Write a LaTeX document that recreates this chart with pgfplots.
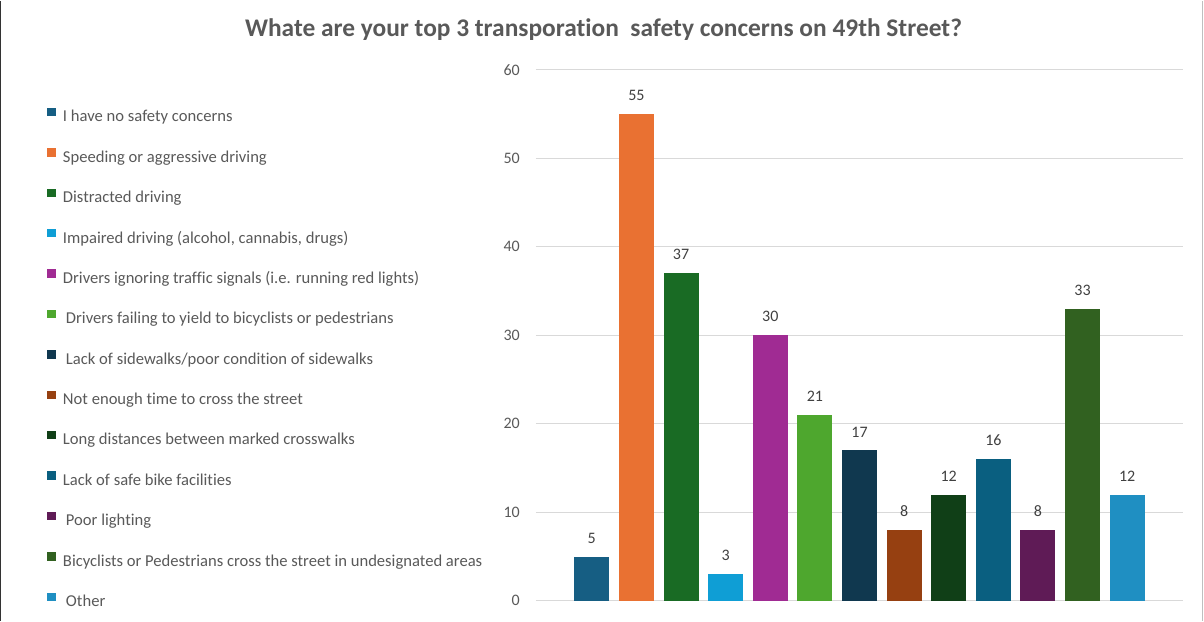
\documentclass[border=0pt]{standalone}
\usepackage{pgfplots}
\pgfplotsset{compat=1.18}
\usepackage{fontspec}
\setmainfont{Carlito}[Ligatures={NoCommon}]
\definecolor{c1}{HTML}{165E83}
\definecolor{c2}{HTML}{E97132}
\definecolor{c3}{HTML}{196B24}
\definecolor{c4}{HTML}{0F9ED5}
\definecolor{c5}{HTML}{A02B93}
\definecolor{c6}{HTML}{4EA72E}
\definecolor{c7}{HTML}{10384F}
\definecolor{c8}{HTML}{964011}
\definecolor{c9}{HTML}{103F17}
\definecolor{c10}{HTML}{0A5F80}
\definecolor{c11}{HTML}{5F1B56}
\definecolor{c12}{HTML}{316120}
\definecolor{c13}{HTML}{1F8FC2}
\definecolor{txtgray}{HTML}{595959}
\definecolor{lblgray}{HTML}{404040}
\definecolor{gridgray}{HTML}{D9D9D9}
\pgfplotsset{
  mybar/.style={ybar, bar width=35pt, bar shift=0pt, draw=none, fill=#1,
    legend image code/.code={\fill[#1] (0pt,0.5pt) rectangle (9pt,9pt); \path (16pt,0pt);}},
}
\begin{document}
\begin{tikzpicture}
\path (-536pt,-20pt) rectangle (668pt,600pt);
\draw[black!80, line width=1.5pt] (-535.25pt,-20pt) -- (-535.25pt,600pt);
\draw[gray!50, line width=1pt] (666pt,-20pt) -- (666pt,600pt);
\begin{axis}[
  scale only axis,
  width=647pt, height=531pt,
  xmin=-1.25, xmax=13.25,
  ymin=0, ymax=60,
  ytick={0,10,...,60},
  xtick=\empty,
  ymajorgrids,
  grid style={gridgray, line width=1pt},
  axis line style={draw=none},
  major tick length=0pt,
  /pgf/number format/assume math mode=true,
  yticklabel style={font=\fontsize{16}{19}\selectfont, text=txtgray, anchor=east, inner xsep=0pt, xshift=-16pt},
  nodes near coords,
  every node near coord/.append style={font=\fontsize{16}{19}\selectfont, text=lblgray, anchor=south, inner sep=0pt, yshift=13pt},
  title={Whate are your top 3 transporation\ \ safety concerns on 49th Street?},
  title style={at={(0.1043,1)}, anchor=base, yshift=27pt, font=\fontsize{25.4}{30}\selectfont\bfseries, text=txtgray},
  legend cell align=left,
  legend style={at={(-0.7558,0.9495)}, anchor=north west, draw=none, fill=none,
    inner sep=0pt, outer sep=0pt, row sep=0pt,
    font=\fontsize{16.6}{19}\selectfont, text=txtgray,
    nodes={minimum height=40.4pt, inner xsep=0pt, inner ysep=0pt}},
]
\addplot[mybar=c1] coordinates {(0,5)};
\addlegendentry{I have no safety concerns}
\addplot[mybar=c2] coordinates {(1,55)};
\addlegendentry{Speeding or aggressive driving}
\addplot[mybar=c3] coordinates {(2,37)};
\addlegendentry{Distracted driving}
\addplot[mybar=c4] coordinates {(3,3)};
\addlegendentry{Impaired driving (alcohol, cannabis, drugs)}
\addplot[mybar=c5] coordinates {(4,30)};
\addlegendentry{Drivers ignoring traffic signals (i.e. running red lights)}
\addplot[mybar=c6] coordinates {(5,21)};
\addlegendentry{\hspace{3pt}Drivers failing to yield to bicyclists or pedestrians}
\addplot[mybar=c7] coordinates {(6,17)};
\addlegendentry{\hspace{3pt}Lack of sidewalks/poor condition of sidewalks}
\addplot[mybar=c8] coordinates {(7,8)};
\addlegendentry{Not enough time to cross the street}
\addplot[mybar=c9] coordinates {(8,12)};
\addlegendentry{Long distances between marked crosswalks}
\addplot[mybar=c10] coordinates {(9,16)};
\addlegendentry{Lack of safe bike facilities}
\addplot[mybar=c11] coordinates {(10,8)};
\addlegendentry{\hspace{3pt}Poor lighting}
\addplot[mybar=c12] coordinates {(11,33)};
\addlegendentry{Bicyclists or Pedestrians cross the street in undesignated areas}
\addplot[mybar=c13] coordinates {(12,12)};
\addlegendentry{\hspace{3pt}Other}
\end{axis}
\end{tikzpicture}
\end{document}
